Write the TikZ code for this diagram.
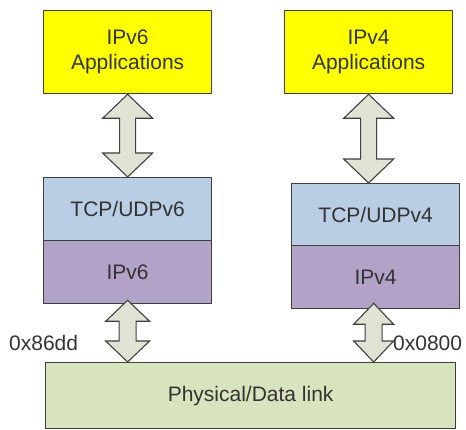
\documentclass[tikz,border=0pt]{standalone}
\usepackage{fontspec}
\setmainfont{Liberation Sans}
\usetikzlibrary{calc}
\definecolor{appyellow}{HTML}{FFFF00}
\definecolor{tcpblue}{HTML}{B9CDE5}
\definecolor{ippurple}{HTML}{B3A2C7}
\definecolor{physgreen}{HTML}{D7E4BD}
\definecolor{arrfill}{HTML}{E0E3D4}
\definecolor{edgegray}{HTML}{404040}
\definecolor{txtgray}{HTML}{333333}
\newcommand\dblarr[5]{%
  \draw[arr] let \p1=#1, \p2=#2 in
    (\x1,\y1) -- (\x1+#3,\y1-#5) -- (\x1+#4,\y1-#5) -- (\x1+#4,\y2+#5)
    -- (\x1+#3,\y2+#5) -- (\x1,\y2) -- (\x1-#3,\y2+#5) -- (\x1-#4,\y2+#5)
    -- (\x1-#4,\y1-#5) -- (\x1-#3,\y1-#5) -- cycle;}
\begin{document}
\begin{tikzpicture}[x=1pt,y=-1pt,
  layer/.style={draw=edgegray, line width=1.3pt, inner sep=0pt, anchor=north west,
    text=txtgray, font=\fontsize{21}{25}\selectfont, align=center},
  arr/.style={draw=edgegray, line width=1.1pt, fill=arrfill, line join=miter},
  lbl/.style={text=txtgray, font=\fontsize{21}{25}\selectfont, inner sep=0pt}]
\useasboundingbox (0,0) rectangle (466,430);
\fill[white] (0,0) rectangle (466,430);
% left stack
\node[layer, fill=appyellow, minimum width=168pt, minimum height=83pt] (app6) at (43,10) {IPv6\\Applications};
\node[layer, fill=tcpblue, minimum width=168pt, minimum height=63pt] (tcp6) at (43,177) {TCP/UDPv6};
\node[layer, fill=ippurple, minimum width=168pt, minimum height=63pt] (ip6) at (43,240) {IPv6};
% right stack
\node[layer, fill=appyellow, minimum width=168pt, minimum height=83pt] (app4) at (284,10) {IPv4\\Applications};
\node[layer, fill=tcpblue, minimum width=168pt, minimum height=62pt] (tcp4) at (291,183) {TCP/UDPv4};
\node[layer, fill=ippurple, minimum width=168pt, minimum height=63pt] (ip4) at (291,245) {IPv4};
% physical
\node[layer, fill=physgreen, minimum width=410pt, minimum height=66pt] (phys) at (45,362) {Physical/Data link};
% arrows
\dblarr{(app6.south)}{(app6.south |- tcp6.north)}{25pt}{8pt}{24pt}
\dblarr{(app4.south)}{(app4.south |- tcp4.north)}{25pt}{8pt}{24pt}
\dblarr{($(ip6.south)+(0,-4)$)}{(ip6.south |- phys.north)}{22pt}{8.5pt}{21pt}
\dblarr{($(ip4.south)+(-2,-6)$)}{($(ip4.south |- phys.north)+(-2,0)$)}{20pt}{8.5pt}{21pt}
% labels
\node[lbl, anchor=west] (l6) at (9,343) {0x86dd};
\node[lbl, anchor=west] (l4) at (393,343) {0x0800};
\end{tikzpicture}
\end{document}
